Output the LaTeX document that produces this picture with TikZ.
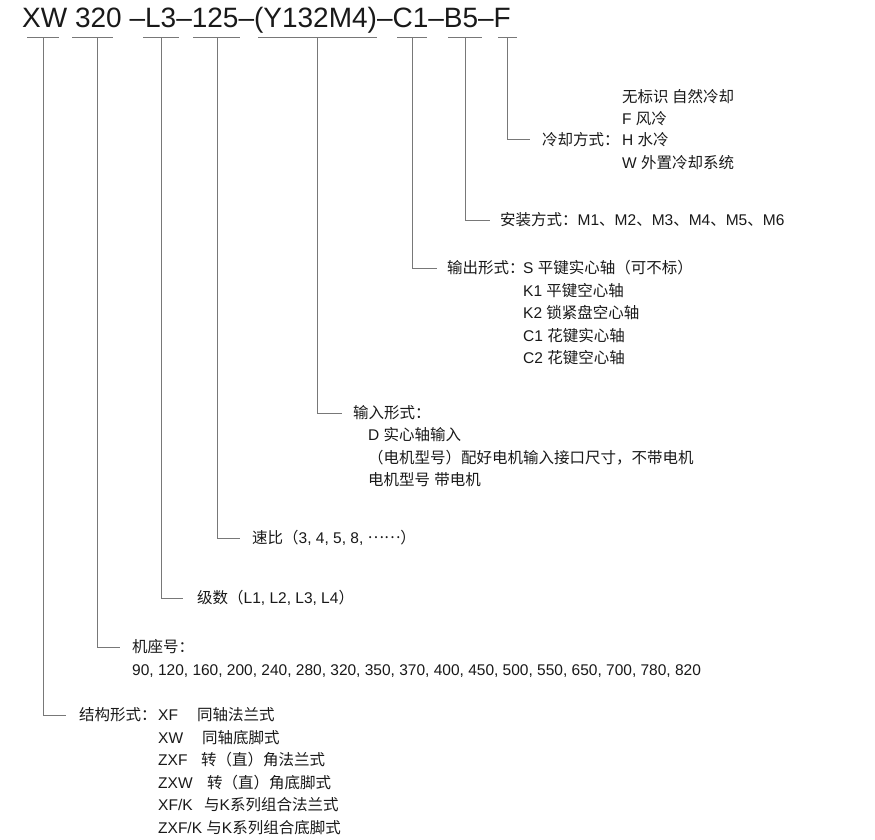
\documentclass[tikz,border=0pt]{standalone}
\usepackage{fontspec}
\setmainfont{Liberation Sans}
\newfontfamily\zh{Noto Sans CJK SC}
\definecolor{linegray}{RGB}{120,120,120}
\definecolor{txt}{RGB}{25,25,25}
\begin{document}
\begin{tikzpicture}[x=1pt,y=-1pt,
  conn/.style={draw=linegray, line width=1pt},
  lab/.style={anchor=base west, inner sep=0, text=txt, font=\fontsize{15.5}{18}\selectfont},
  ttl/.style={anchor=base west, inner sep=0, text=txt, font=\fontsize{28}{32}\selectfont}]
\useasboundingbox (0,0) rectangle (875,840);
% title
\node[ttl] (title) at (22,28) {XW 320 –L3–125–(Y132M4)–C1–B5–F};
% underlines and stems
\foreach \n/\a/\b/\v in {XW/27/59/43, S320/72/113/97, L3/143/179/161, R125/193/240/217,
  Y/258/377/317, C1/397/427/412, B5/448/482/465, F/498/517/507}{
  \draw[conn] (\a,37.5) -- (\b,37.5);
  \coordinate (u\n) at (\v,37.5);
}
% F block: cooling
\node[lab] (hF) at (542,145.5) {{\zh 冷却方式：}};
\node[lab] (oF1) at (622,102.5) {{\zh 无标识 自然冷却}};
\node[lab] (oF2) at (622,124.5) {F {\zh 风冷}};
\node[lab] (oF3) at (622,145.5) {H {\zh 水冷}};
\node[lab] (oF4) at (622,168.5) {W {\zh 外置冷却系统}};
\draw[conn] (uF) |- ([xshift=-12pt,yshift=5.5pt]hF.base west);
% B5 block: mounting
\node[lab] (hB5) at (500,225.5) {{\zh 安装方式：}M1{\zh 、}M2{\zh 、}M3{\zh 、}M4{\zh 、}M5{\zh 、}M6};
\draw[conn] (uB5) |- ([xshift=-10pt,yshift=5.5pt]hB5.base west);
% C1 block: output
\node[lab] (hC1) at (447,273.5) {{\zh 输出形式：}};
\node[lab] (oC1) at (523,273.5) {S {\zh 平键实心轴（可不标）}};
\node[lab] (oC2) at (523,296) {K1 {\zh 平键空心轴}};
\node[lab] (oC3) at (523,318.5) {K2 {\zh 锁紧盘空心轴}};
\node[lab] (oC4) at (523,341) {C1 {\zh 花键实心轴}};
\node[lab] (oC5) at (523,363.5) {C2 {\zh 花键空心轴}};
\draw[conn] (uC1) |- ([xshift=-10pt,yshift=5.5pt]hC1.base west);
% Y block: input
\node[lab] (hY) at (353,418.5) {{\zh 输入形式：}};
\node[lab] (oY1) at (368,440.5) {D {\zh 实心轴输入}};
\node[lab] (oY2) at (368,463.5) {{\zh （电机型号）配好电机输入接口尺寸，不带电机}};
\node[lab] (oY3) at (368,485.5) {{\zh 电机型号} {\zh 带电机}};
\draw[conn] (uY) |- ([xshift=-11pt,yshift=5.5pt]hY.base west);
% ratio
\node[lab] (hR) at (252,543.5) {{\zh 速比（}3, 4, 5, 8, \raisebox{5pt}{\zh ……}{\zh ）}};
\draw[conn] (uR125) |- ([xshift=-12pt,yshift=5.5pt]hR.base west);
% stages
\node[lab] (hL) at (197,603.5) {{\zh 级数（}L1, L2, L3, L4{\zh ）}};
\draw[conn] (uL3) |- ([xshift=-14pt,yshift=5.5pt]hL.base west);
% frame size
\node[lab] (hS) at (132,652.5) {{\zh 机座号：}};
\node[lab] (oS) at (132,675.5) {90, 120, 160, 200, 240, 280, 320, 350, 370, 400, 450, 500, 550, 650, 700, 780, 820};
\draw[conn] (uS320) |- ([xshift=-12pt,yshift=5.5pt]hS.base west);
% structure
\node[lab] (hX) at (79,720.5) {{\zh 结构形式：}};
\node[lab] (oX1) at (158,720.5) {\makebox[39pt][l]{XF}{\zh 同轴法兰式}};
\node[lab] (oX2) at (158,743) {\makebox[44pt][l]{XW}{\zh 同轴底脚式}};
\node[lab] (oX3) at (158,765.5) {\makebox[43pt][l]{ZXF}{\zh 转（直）角法兰式}};
\node[lab] (oX4) at (158,788) {\makebox[49pt][l]{ZXW}{\zh 转（直）角底脚式}};
\node[lab] (oX5) at (158,810.5) {\makebox[46pt][l]{XF/K}{\zh 与}K{\zh 系列组合法兰式}};
\node[lab] (oX6) at (158,833) {ZXF/K {\zh 与}K{\zh 系列组合底脚式}};
\draw[conn] (uXW) |- ([xshift=-13pt,yshift=5.5pt]hX.base west);
\end{tikzpicture}
\end{document}
